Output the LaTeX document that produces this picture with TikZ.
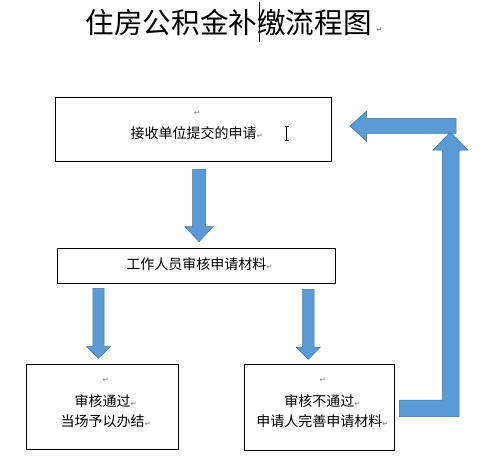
\documentclass[tikz,border=0pt]{standalone}
\usepackage{fontspec}
\setmainfont{Noto Sans CJK SC}
\newfontfamily\symf{DejaVu Sans}
\usetikzlibrary{calc}
\definecolor{arrowblue}{HTML}{5B9BD5}
\definecolor{arrowedge}{HTML}{41719C}
\definecolor{markgray}{HTML}{7F7F7F}
\newcommand\pmk{{\symf\fontsize{7.5}{7.5}\selectfont\color{markgray}↵}}
\newcommand\pmr{\rlap{\pmk}}
\newcommand\blkdown[6]{%
  \path[blockarrow] ({#1-#5},#2) -- ({#1+#5},#2) -- ({#1+#5},#3) -- ({#1+#6},#3)
    -- (#1,#4) -- ({#1-#6},#3) -- ({#1-#5},#3) -- cycle;}
\begin{document}
\begin{tikzpicture}[x=1pt,y=-1pt,
  flowbox/.style 2 args={draw=black,line width=0.8pt,inner sep=0pt,
    minimum width=#1,minimum height=#2},
  bodytext/.style={font=\fontsize{14}{14}\selectfont,inner sep=0pt,anchor=base},
  marktext/.style={inner sep=0pt,anchor=base west},
  blockarrow/.style={fill=arrowblue,draw=arrowedge,line width=0.5pt,line join=miter}]
\useasboundingbox (0,0) rectangle (492,474);
\fill[white] (0,0) rectangle (492,474);

% title
\node[anchor=base west,inner sep=0pt,font=\fontsize{28.6}{28.6}\selectfont] (title) at (85.5,33.4) {住房公积金补缴流程图};
\node[marktext] (titlemark) at ($(title.base east)+(4,-1)$) {\pmk};
\draw[line width=1pt] (259,2) -- (259,42);

% boxes
\node[flowbox={276pt}{63.7pt}] (b1) at (193.7,129.2) {};
\node[flowbox={278pt}{35pt}] (b2) at (196.3,265.8) {};
\node[flowbox={151.6pt}{85pt}] (b3) at (102.5,406.8) {};
\node[flowbox={150pt}{86.4pt}] (b4) at (319.3,407.5) {};

% box texts
\node[marktext] (m1) at ($(b1.north)+(0,18.6)$) {\pmk};
\node[bodytext] (t1) at ($(b1.north)+(0,41.3)$) {接收单位提交的申请\pmr};
\node[bodytext] (t2) at ($(b2.north)+(0,22)$) {工作人员审核申请材料\pmr};
\node[marktext] (m3) at ($(b3.north)+(0,18.3)$) {\pmk};
\node[bodytext] (t3a) at ($(b3.north)+(0,42.5)$) {审核通过\pmr};
\node[bodytext] (t3b) at ($(b3.north)+(0,62.5)$) {当场予以办结\pmr};
\node[marktext] (m4) at ($(b4.north)+(0,18.3)$) {\pmk};
\node[bodytext] (t4a) at ($(b4.north)+(0,42.5)$) {审核不通过\pmr};
\node[bodytext] (t4b) at ($(b4.north)+(0,62.5)$) {申请人完善申请材料\pmr};

% I-beam pointer
\draw[line width=0.6pt] (286.7,126) -- (286.7,140.7)
  (284.6,126) -- (288.8,126) (284.6,140.7) -- (288.8,140.7);

% block arrows
\blkdown{199}{169.3}{226.7}{241.7}{6.5}{14}
\blkdown{98.5}{288.3}{346.7}{358.3}{5.7}{12}
\blkdown{308.3}{289.3}{347.3}{359.3}{5.8}{12}

\path[blockarrow] (399.3,400) -- (442.3,400) -- (442.3,150) -- (433,150)
  -- (450.5,132) -- (468,150) -- (459,150) -- (459,416.5) -- (399.3,416.5) -- cycle;
\path[blockarrow] (456,118.3) -- (366.7,118.3) -- (366.7,111) -- (350,126)
  -- (366.7,141.5) -- (366.7,133.3) -- (456,133.3) -- cycle;
\end{tikzpicture}
\end{document}
